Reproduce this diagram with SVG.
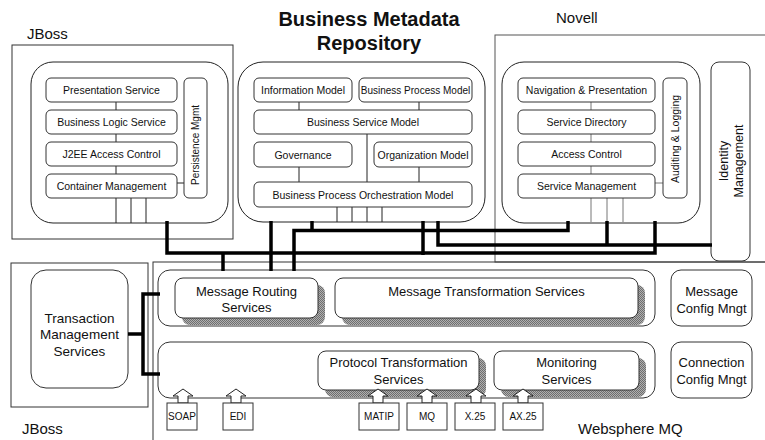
<svg xmlns="http://www.w3.org/2000/svg" width="765" height="440" viewBox="0 0 765 440">
<style>
text{font-family:"Liberation Sans",Arial,sans-serif;fill:#111;text-anchor:middle}
.t{font-size:15px;text-anchor:start}
.title{font-size:20px;font-weight:bold}
.s{font-size:10.5px}
.m{font-size:13px}
.i{font-size:10px}
.frame{fill:none;stroke:#333;stroke-width:1}
.gframe{fill:none;stroke:#555;stroke-width:1}
.cont{fill:#fff;stroke:#222;stroke-width:1}
.box{fill:#fff;stroke:#333;stroke-width:1}
.thin{stroke:#222;stroke-width:1;fill:none}
.gthin{stroke:#777;stroke-width:1;fill:none}
.bus{stroke:#000;stroke-width:3.5;fill:none;stroke-linejoin:miter}
.shadow{fill:url(#hatch);stroke:none}
.arr{fill:#fff;stroke:#222;stroke-width:1}
</style>
<defs>
<pattern id="hatch" width="2" height="2" patternUnits="userSpaceOnUse">
<rect width="2" height="2" fill="#b0b0b0"/>
<rect width="1" height="1" fill="#6e6e6e"/>
<rect x="1" y="1" width="1" height="1" fill="#6e6e6e"/>
</pattern>
</defs>

<!-- Frames and labels -->
<g id="frames">
<rect class="frame" x="12" y="45" width="221" height="194"/>
<rect class="gframe" x="495" y="35" width="280" height="227"/>
<rect class="frame" x="11" y="263" width="137" height="144"/>
<rect class="frame" x="153" y="262" width="620" height="190"/>
<text class="t" x="27" y="39">JBoss</text>
<text class="t" x="556" y="23">Novell</text>
<text class="t" x="22" y="434">JBoss</text>
<text class="t" x="578" y="434">Websphere MQ</text>
<text class="title" x="369" y="26">Business Metadata</text>
<text class="title" x="369" y="50">Repository</text>
</g>

<!-- JBoss application server -->
<g id="jboss-app">
<rect class="cont" x="31" y="62" width="197" height="161" rx="22"/>
<line class="thin" x1="116" y1="102" x2="116" y2="110"/>
<line class="thin" x1="116" y1="134" x2="116" y2="142"/>
<line class="thin" x1="116" y1="166" x2="116" y2="174"/>
<line class="thin" x1="177" y1="183" x2="184" y2="183"/>
<line class="thin" x1="116" y1="198" x2="116" y2="223"/>
<line class="thin" x1="131" y1="198" x2="131" y2="223"/>
<line class="thin" x1="146" y1="198" x2="146" y2="223"/>
</g>
<g id="presentation-service"><rect class="box" x="46" y="78" width="131" height="24" rx="5"/><text class="s" x="111.5" y="94">Presentation Service</text></g>
<g id="business-logic-service"><rect class="box" x="46" y="110" width="131" height="24" rx="5"/><text class="s" x="111.5" y="126">Business Logic  Service</text></g>
<g id="j2ee-access-control"><rect class="box" x="46" y="142" width="131" height="24" rx="5"/><text class="s" x="111.5" y="158">J2EE Access Control</text></g>
<g id="container-management"><rect class="box" x="46" y="174" width="131" height="24" rx="5"/><text class="s" x="111.5" y="190">Container  Management</text></g>
<g id="persistence-mgmt"><rect class="box" x="184" y="78" width="23" height="120" rx="5"/><text class="i" transform="translate(199,145) rotate(-90)">Persistence Mgmt</text></g>

<!-- Business Metadata Repository -->
<g id="bmr">
<rect class="cont" x="238" y="62" width="247" height="160" rx="25"/>
<line class="thin" x1="299" y1="102" x2="299" y2="110"/>
<line class="thin" x1="419" y1="102" x2="419" y2="110"/>
<line class="thin" x1="367" y1="134" x2="367" y2="182"/>
<line class="thin" x1="299" y1="167" x2="299" y2="182"/>
<line class="thin" x1="419" y1="167" x2="419" y2="182"/>
<line class="thin" x1="337" y1="207" x2="337" y2="222"/>
<line class="thin" x1="352" y1="207" x2="352" y2="222"/>
<line class="thin" x1="367" y1="207" x2="367" y2="222"/>
<line class="thin" x1="382" y1="207" x2="382" y2="222"/>
</g>
<g id="information-model"><rect class="box" x="254" y="78" width="98" height="24" rx="5"/><text class="s" x="303" y="94">Information Model</text></g>
<g id="business-process-model"><rect class="box" x="359" y="78" width="113" height="24" rx="5"/><text class="i" x="415.5" y="93.5">Business Process Model</text></g>
<g id="business-service-model"><rect class="box" x="254" y="110" width="218" height="24" rx="5"/><text class="s" x="363" y="126">Business Service Model</text></g>
<g id="governance"><rect class="box" x="254" y="142" width="98" height="25" rx="5"/><text class="s" x="303" y="158.5">Governance</text></g>
<g id="organization-model"><rect class="box" x="374" y="142" width="98" height="25" rx="5"/><text class="s" x="423" y="158.5">Organization Model</text></g>
<g id="bpo-model"><rect class="box" x="254" y="182" width="218" height="25" rx="5"/><text class="s" x="363" y="198.5">Business Process Orchestration Model</text></g>

<!-- Novell -->
<g id="novell-app">
<rect class="cont" x="502" y="62" width="198" height="161" rx="22"/>
<line class="gthin" x1="591" y1="102" x2="591" y2="110"/>
<line class="gthin" x1="591" y1="134" x2="591" y2="142"/>
<line class="gthin" x1="591" y1="166" x2="591" y2="174"/>
<line class="gthin" x1="655" y1="183" x2="663" y2="183"/>
<line class="gthin" x1="591" y1="198" x2="591" y2="222"/>
<line class="gthin" x1="607" y1="198" x2="607" y2="222"/>
<line class="gthin" x1="623" y1="198" x2="623" y2="222"/>
</g>
<g id="navigation-presentation"><rect class="box" x="518" y="78" width="137" height="24" rx="5"/><text class="s" x="586.5" y="94">Navigation &amp; Presentation</text></g>
<g id="service-directory"><rect class="box" x="518" y="110" width="137" height="24" rx="5"/><text class="s" x="586.5" y="126">Service Directory</text></g>
<g id="access-control"><rect class="box" x="518" y="142" width="137" height="24" rx="5"/><text class="s" x="586.5" y="158">Access Control</text></g>
<g id="service-management"><rect class="box" x="518" y="174" width="137" height="24" rx="5"/><text class="s" x="586.5" y="190">Service Management</text></g>
<g id="auditing-logging"><rect class="box" x="663" y="78" width="24" height="120" rx="5"/><text class="s" transform="translate(679,139) rotate(-90)">Auditing &amp; Logging</text></g>
<g id="identity-management"><rect class="box" x="711" y="62" width="39" height="199" rx="8"/>
<text style="font-size:12.5px" transform="translate(727.5,161) rotate(-90)">Identity</text>
<text style="font-size:12.5px" transform="translate(742.5,161) rotate(-90)">Management</text></g>

<!-- Transaction -->
<g id="transaction-management"><rect class="box" x="31" y="270" width="97" height="118" rx="15"/>
<text style="font-size:13.5px" x="79.5" y="323">Transaction</text>
<text style="font-size:13.5px" x="79.5" y="339">Management</text>
<text style="font-size:13.5px" x="79.5" y="356">Services</text></g>

<!-- Websphere groups -->
<g id="message-group"><rect class="box" x="158" y="270" width="497" height="56" rx="12"/></g>
<g id="protocol-group"><rect class="box" x="158" y="342" width="497" height="56" rx="12"/></g>
<g id="message-routing">
<rect class="shadow" x="182" y="285" width="143" height="40" rx="8"/>
<rect class="box" x="175" y="278" width="143" height="40" rx="8"/>
<text class="m" x="246.5" y="295.5">Message Routing</text><text class="m" x="246.5" y="311.5">Services</text></g>
<g id="message-transformation">
<rect class="shadow" x="342" y="285" width="303" height="40" rx="8"/>
<rect class="box" x="335" y="278" width="303" height="40" rx="8"/>
<text class="m" x="486.5" y="295.5">Message Transformation Services</text></g>
<g id="protocol-transformation">
<rect class="shadow" x="325" y="358" width="161" height="39" rx="8"/>
<rect class="box" x="318" y="351" width="161" height="39" rx="8"/>
<text class="m" x="398.5" y="366.5">Protocol Transformation</text><text class="m" x="398.5" y="383.5">Services</text></g>
<g id="monitoring">
<rect class="shadow" x="501" y="358" width="145" height="39" rx="8"/>
<rect class="box" x="494" y="351" width="145" height="39" rx="8"/>
<text class="m" x="566.5" y="366.5">Monitoring</text><text class="m" x="566.5" y="383.5">Services</text></g>
<g id="message-config"><rect class="box" x="671" y="270" width="81" height="56" rx="10"/>
<text class="m" x="711.5" y="295.5">Message</text><text class="m" x="711.5" y="312.5">Config Mngt</text></g>
<g id="connection-config"><rect class="box" x="671" y="342" width="81" height="56" rx="10"/>
<text class="m" x="711.5" y="366.5">Connection</text><text class="m" x="711.5" y="383.5">Config Mngt</text></g>

<!-- Inputs -->
<g id="soap"><polygon class="arr" points="178,403 178,396 173,396 183,389 193,396 188,396 188,403"/><rect class="box" x="167" y="403" width="30" height="27"/><text class="i" x="182" y="420">SOAP</text></g>
<g id="edi"><polygon class="arr" points="231,403 231,396 226,396 236,389 246,396 241,396 241,403"/><rect class="box" x="223" y="403" width="30" height="27"/><text class="i" x="238" y="420">EDI</text></g>
<g id="matip"><polygon class="arr" points="373,403 373,396 368,396 378,389 388,396 383,396 383,403"/><rect class="box" x="359" y="403" width="40" height="27"/><text class="i" x="379" y="420">MATIP</text></g>
<g id="mq"><polygon class="arr" points="422,403 422,396 417,396 427,389 437,396 432,396 432,403"/><rect class="box" x="407" y="403" width="40" height="27"/><text class="i" x="427" y="420">MQ</text></g>
<g id="x25"><polygon class="arr" points="471,403 471,396 466,396 476,389 486,396 481,396 481,403"/><rect class="box" x="455" y="403" width="40" height="27"/><text class="i" x="475" y="420">X.25</text></g>
<g id="ax25"><polygon class="arr" points="518,403 518,396 513,396 523,389 533,396 528,396 528,403"/><rect class="box" x="503" y="403" width="40" height="27"/><text class="i" x="523" y="420">AX.25</text></g>

<!-- Connectors -->
<g id="connectors">
<path class="bus" d="M167,221 V253 H655 V221"/>
<path class="bus" d="M223,253 V271"/>
<path class="bus" d="M271,221 V271"/>
<path class="bus" d="M423,221 V255"/>
<path class="bus" d="M294,271 V230.5 H568 V221"/>
<path class="bus" d="M312,221 V231"/>
<path class="bus" d="M438,221 V245 H712"/>
<path class="bus" d="M607,221 V246"/>
<path class="bus" d="M160,294 H143 V374 H160"/>
<path class="bus" d="M128,334 H143"/>
</g>
</svg>
